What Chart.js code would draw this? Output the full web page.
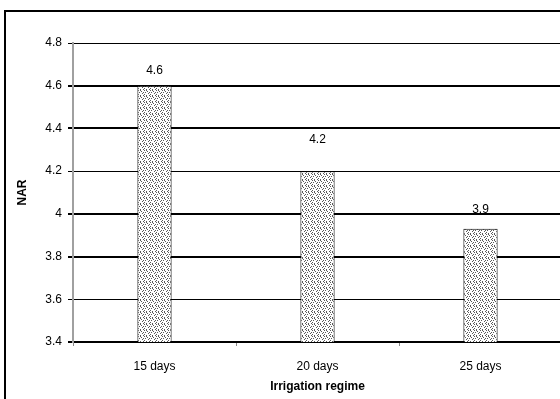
<!DOCTYPE html>
<html>
<head>
<meta charset="utf-8">
<script src="https://cdn.jsdelivr.net/npm/chart.js@4.4.0/dist/chart.umd.min.js"></script>
<style>
  html, body { margin: 0; padding: 0; background: #fff; overflow: hidden; }
  #wrap { width: 580px; height: 399px; }
</style>
</head>
<body>
<div id="wrap"><canvas id="narChart" width="580" height="399"></canvas></div>
<script>
const regimes = ['15 days', '20 days', '25 days'];
const narValues = [4.6, 4.2, 3.93];
const yTicks = [3.4, 3.6, 3.8, 4.0, 4.2, 4.4, 4.6, 4.8];
const thinGridValues = [4.8, 4.2, 3.6];

// speckled fill for the bars
function speckle() {
    const c = document.createElement('canvas');
    c.width = 6; c.height = 6;
    const g = c.getContext('2d');
    g.fillStyle = '#ffffff';
    g.fillRect(0, 0, 6, 6);
    g.fillStyle = '#5a5a5a';
    [[0, 0], [3, 1], [1, 2], [4, 3], [0, 4], [2, 5], [5, 5], [2, 0], [5, 2]].forEach(p => g.fillRect(p[0], p[1], 1, 1));
    return g.createPattern(c, 'repeat');
}

const frame = {
    id: 'frame',
    beforeDraw(chart) {
        const ctx = chart.ctx;
        ctx.save();
        ctx.fillStyle = '#fff';
        ctx.fillRect(0, 0, chart.width, chart.height);
        ctx.strokeStyle = '#000';
        ctx.lineWidth = 2;
        ctx.strokeRect(5, 11, 620, 500);
        ctx.restore();
    }
};

// value labels above each bar
const labelOffsets = [15, 31, 19];
const barLabels = {
    id: 'barLabels',
    afterDatasetsDraw(chart) {
        const ctx = chart.ctx;
        ctx.save();
        ctx.font = '12px "Liberation Sans", Arial, sans-serif';
        ctx.fillStyle = '#000';
        ctx.textAlign = 'center';
        ctx.textBaseline = 'middle';
        chart.getDatasetMeta(0).data.forEach((bar, i) => {
            ctx.fillText(narValues[i].toFixed(1), bar.x, bar.y - labelOffsets[i]);
        });
        ctx.restore();
    }
};

document.addEventListener('DOMContentLoaded', function() {
    Chart.defaults.font.family = '"Liberation Sans", Arial, sans-serif';
    Chart.defaults.font.size = 12;
    Chart.defaults.color = '#000';

    const ctx = document.getElementById('narChart').getContext('2d');
    new Chart(ctx, {
        type: 'bar',
        data: {
            labels: regimes,
            datasets: [{
                data: narValues,
                backgroundColor: speckle(),
                borderColor: '#000',
                borderWidth: 1,
                categoryPercentage: 1,
                barPercentage: 0.21
            }]
        },
        options: {
            responsive: false,
            animation: false,
            layout: { padding: { left: 0, top: 43, right: 18, bottom: 0 } },
            plugins: {
                legend: { display: false },
                tooltip: { enabled: false }
            },
            scales: {
                x: {
                    afterFit: s => { s.height = 57; },
                    grid: { drawOnChartArea: false, tickLength: 4, color: '#888' },
                    border: { color: '#000', width: 2 },
                    ticks: { padding: 13, font: { size: 12 } },
                    title: {
                        display: true,
                        text: 'Irrigation regime',
                        font: { size: 12, weight: 'bold' },
                        padding: { top: 0, bottom: 5 }
                    }
                },
                y: {
                    min: 3.4,
                    max: 4.8,
                    afterFit: s => { s.width = 73; },
                    afterBuildTicks: s => { s.ticks = yTicks.map(v => ({ value: v })); },
                    grid: {
                        color: '#000',
                        tickLength: 5,
                        lineWidth: c => (c.tick && thinGridValues.includes(Number(c.tick.value.toFixed(1)))) ? 1 : 2
                    },
                    border: { color: '#a0a0a0', width: 2 },
                    ticks: {
                        padding: 6,
                        callback: v => String(Number(v.toFixed(1)))
                    },
                    title: {
                        display: true,
                        text: 'NAR',
                        font: { size: 12, weight: 'bold' },
                        padding: { top: 15, bottom: 0 }
                    }
                }
            }
        },
        plugins: [frame, barLabels]
    });
});
</script>
</body>
</html>
